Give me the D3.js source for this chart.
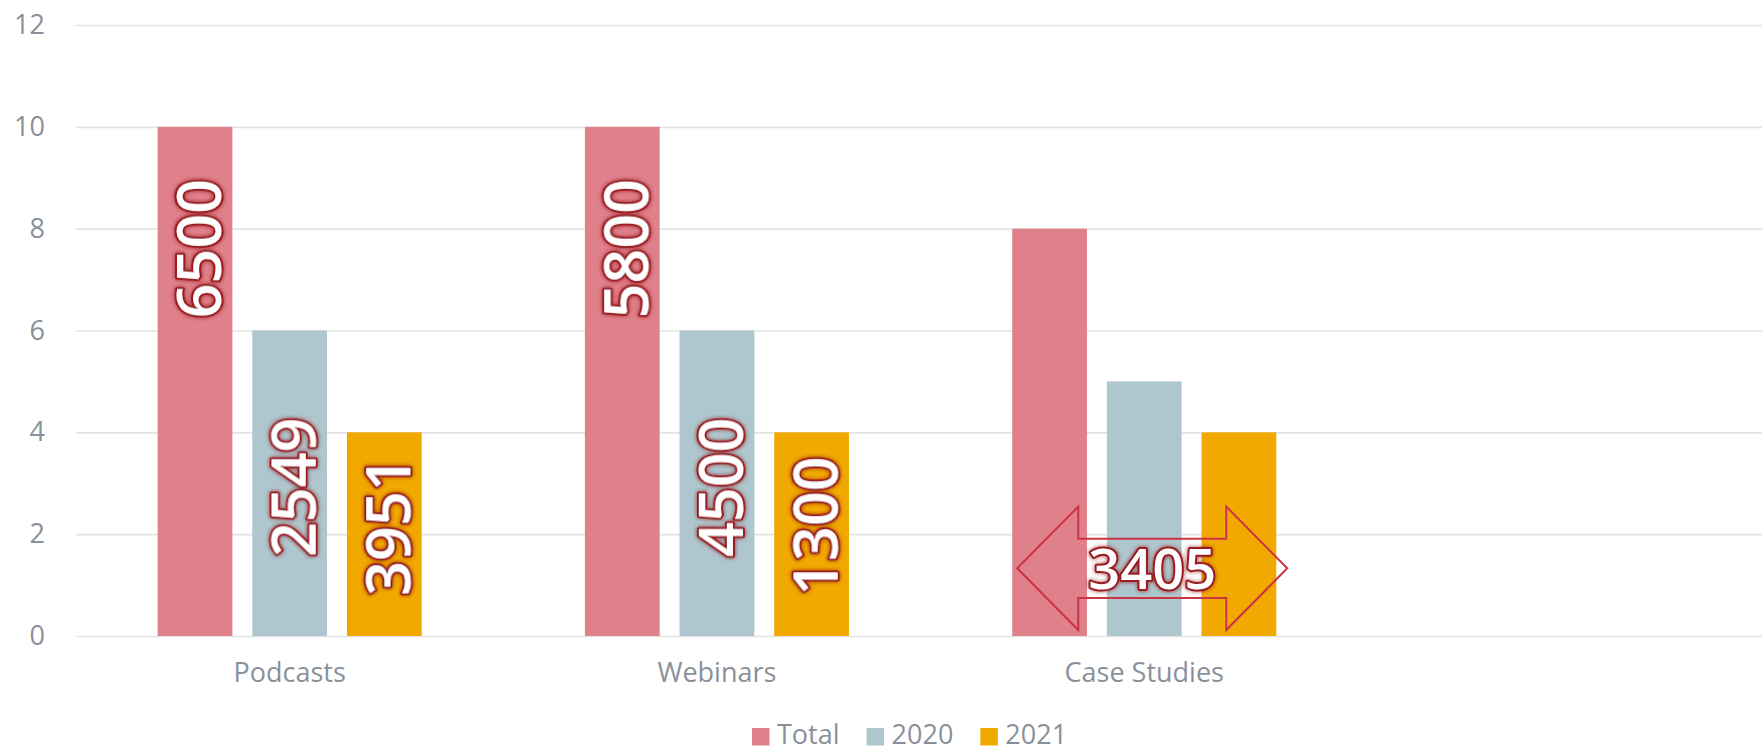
<!DOCTYPE html>
<html>
<head>
<meta charset="utf-8">
<script src="https://cdn.jsdelivr.net/npm/d3@7"></script>
<style>
  body { margin: 0; background: #fff; }
  svg { display: block; font-family: "Open Sans", sans-serif; }
</style>
</head>
<body>
<div id="chart-area"></div>
<script>
// chart data
const categories = ["Podcasts", "Webinars", "Case Studies"];
const seriesNames = ["Total", "2020", "2021"];
const totalValues = [10, 10, 8];
const values2020 = [6, 6, 5];
const values2021 = [4, 4, 4];
const totalLabels = ["6500", "5800", null];
const labels2020 = ["2549", "4500", null];
const labels2021 = ["3951", "1300", null];
const arrowCategory = "Case Studies";
const arrowLabel = "3405";
const yTicks = [0, 2, 4, 6, 8, 10, 12];

const colors = { "Total": "#e0808b", "2020": "#aec6cd", "2021": "#f1a900" };
// how far below the bar top each series' rotated label starts
const labelDrop = { "Total": 52, "2020": 87, "2021": 24 };

const W = 1762, H = 752;
const plotLeft = 76, plotTop = 25, plotBottom = 636;
const step = 427.3;

const svg = d3.select("#chart-area").append("svg")
  .attr("width", W)
  .attr("height", H);

const defs = svg.append("defs");
const glow = defs.append("filter").attr("id", "glow")
  .attr("x", "-20%").attr("y", "-20%").attr("width", "140%").attr("height", "140%");
glow.append("feDropShadow")
  .attr("dx", 0).attr("dy", 0)
  .attr("stdDeviation", 2.2)
  .attr("flood-color", "#8b1010")
  .attr("flood-opacity", 0.75);

const x = d3.scaleBand()
  .domain(categories)
  .range([plotLeft, plotLeft + step * categories.length])
  .paddingInner(0.382)
  .paddingOuter(0.191);

const xSub = d3.scaleBand()
  .domain(seriesNames)
  .range([0, x.bandwidth()])
  .paddingInner(0.21);

const y = d3.scaleLinear()
  .domain([0, 12])
  .range([plotBottom, plotTop]);

// gridlines
const yAxis = d3.axisLeft(y)
  .tickValues(yTicks)
  .tickSize(-(W - plotLeft))
  .tickPadding(31);
const gy = svg.append("g")
  .attr("transform", `translate(${plotLeft},0)`)
  .call(yAxis);
gy.select(".domain").remove();
gy.selectAll(".tick line").attr("stroke", "#e3e3e3").attr("stroke-width", 1.6);
gy.selectAll(".tick text")
  .attr("fill", "#899099")
  .attr("font-size", "27px")
  .attr("font-family", "Open Sans, sans-serif");

// category axis
const xAxis = d3.axisBottom(x).tickSize(0).tickPadding(27);
const gx = svg.append("g")
  .attr("transform", `translate(0,${plotBottom})`)
  .call(xAxis);
gx.select(".domain").remove();
gx.selectAll(".tick text")
  .attr("fill", "#899099")
  .attr("font-size", "27px")
  .attr("font-family", "Open Sans, sans-serif");

const rows = categories.map((c, i) => ({
  category: c,
  bars: [
    { series: "Total", value: totalValues[i], label: totalLabels[i] },
    { series: "2020", value: values2020[i], label: labels2020[i] },
    { series: "2021", value: values2021[i], label: labels2021[i] }
  ]
}));

const groups = svg.selectAll(".group")
  .data(rows)
  .enter().append("g")
  .attr("class", "group")
  .attr("transform", d => `translate(${x(d.category)},0)`);

groups.selectAll("rect")
  .data(d => d.bars)
  .enter().append("rect")
  .attr("x", d => xSub(d.series))
  .attr("y", d => y(d.value))
  .attr("width", xSub.bandwidth())
  .attr("height", d => y(0) - y(d.value))
  .attr("fill", d => colors[d.series]);

const fancy = sel => sel
  .attr("fill", "#fff")
  .attr("stroke", "#9a1b20")
  .attr("stroke-width", 4)
  .attr("paint-order", "stroke")
  .attr("stroke-linejoin", "round")
  .attr("font-weight", 600)
  .attr("filter", "url(#glow)")
  .attr("font-family", "Open Sans, sans-serif");

groups.selectAll(".val")
  .data(d => d.bars.filter(b => b.label))
  .enter().append("text")
  .attr("class", "val")
  .attr("text-anchor", "end")
  .attr("font-size", "61px")
  .attr("transform", d => {
    const cx = xSub(d.series) + xSub.bandwidth() / 2 + 26;
    const ty = y(d.value) + labelDrop[d.series];
    return `translate(${cx},${ty}) rotate(-90)`;
  })
  .call(fancy)
  .text(d => d.label);

// double arrow annotation
const ac = x(arrowCategory) + x.bandwidth() / 2 + 8;
const ay = y(1.33);
const halfLen = 135, headLen = 61, headHalf = 61.7, shaftHalf = 29.6;
const arrowPts = [
  [ac - halfLen, ay],
  [ac - halfLen + headLen, ay - headHalf],
  [ac - halfLen + headLen, ay - shaftHalf],
  [ac + halfLen - headLen, ay - shaftHalf],
  [ac + halfLen - headLen, ay - headHalf],
  [ac + halfLen, ay],
  [ac + halfLen - headLen, ay + headHalf],
  [ac + halfLen - headLen, ay + shaftHalf],
  [ac - halfLen + headLen, ay + shaftHalf],
  [ac - halfLen + headLen, ay + headHalf]
];
svg.append("path")
  .attr("d", d3.line()(arrowPts) + "Z")
  .attr("fill", "none")
  .attr("stroke", "#cc3344")
  .attr("stroke-width", 2);

svg.append("text")
  .attr("x", ac)
  .attr("y", ay + 21)
  .attr("text-anchor", "middle")
  .attr("font-size", "56px")
  .call(fancy)
  .text(arrowLabel);

// legend
const legend = svg.append("g").attr("transform", "translate(752,0)");
let lx = 0;
seriesNames.forEach(s => {
  const item = legend.append("g").attr("transform", `translate(${lx},0)`);
  item.append("rect")
    .attr("x", 0).attr("y", 728)
    .attr("width", 17.5).attr("height", 17.5)
    .attr("fill", colors[s]);
  const t = item.append("text")
    .attr("x", 25).attr("y", 744)
    .attr("fill", "#899099")
    .attr("font-size", "27px")
    .text(s);
  lx += 25 + t.node().getComputedTextLength() + 27;
});
</script>
</body>
</html>
